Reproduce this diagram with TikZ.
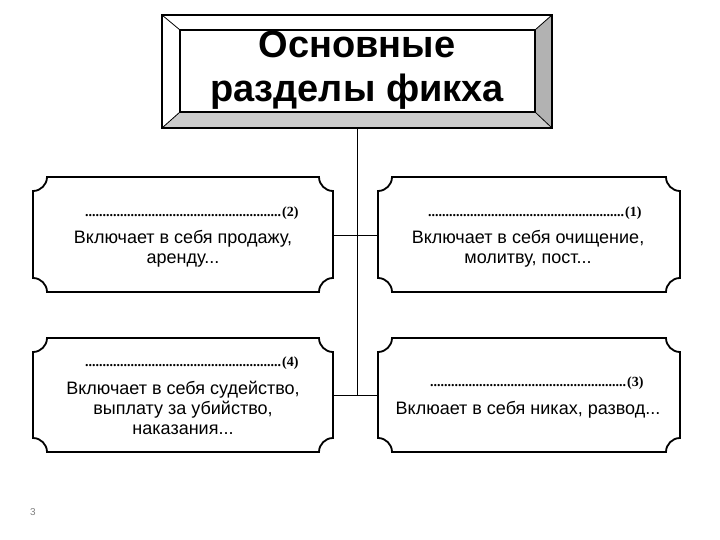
\documentclass[tikz,border=0pt]{standalone}
\usepackage{fontspec}
\setmainfont{Liberation Sans}
\newfontfamily\serifr{Liberation Serif}
\tikzset{
  frame/.style={line width=1.8pt},
  txt/.style={font=\fontsize{18}{20}\selectfont, align=center, inner sep=0pt},
  dots/.style={font=\serifr\bfseries\fontsize{14}{15}\selectfont, inner sep=0pt, anchor=base west},
  con/.style={line width=1pt}
}
\newcommand{\notchbox}[4]{%
  \draw[frame,fill=white] (#1+14,#2) -- (#3-14,#2)
   .. controls (#3-14,#2+7.7) and (#3-7.7,#2+14) .. (#3,#2+14)
   -- (#3,#4-14) .. controls (#3-7.7,#4-14) and (#3-14,#4-7.7) .. (#3-14,#4)
   -- (#1+14,#4) .. controls (#1+14,#4-7.7) and (#1+7.7,#4-14) .. (#1,#4-14)
   -- (#1,#2+14) .. controls (#1+7.7,#2+14) and (#1+14,#2+7.7) .. (#1+14,#2) -- cycle;}
\newcommand{\dotrow}[1]{\hbox to 197pt{\leaders\hbox{.}\hfil}(#1)}
\begin{document}
\begin{tikzpicture}[x=1pt,y=-1pt]
\useasboundingbox (0,0) rectangle (720,540);
% connectors
\coordinate (t) at (357,128);
\coordinate (b) at (357,395);
\draw[con] (t) -- (b);
\draw[con] (333,235) -- (378,235);
\draw[con] (333,395) -- (378,395);
% title frame
\fill[white] (162,15) -- (552,15) -- (535,30) -- (180,30) -- cycle;
\fill[white] (162,15) -- (180,30) -- (180,112) -- (162,128) -- cycle;
\fill[gray!60] (552,15) -- (552,128) -- (535,112) -- (535,30) -- cycle;
\fill[gray!40] (162,128) -- (552,128) -- (535,112) -- (180,112) -- cycle;
\draw[line width=1.5pt] (162,15) rectangle (552,128);
\draw[line width=1.5pt] (180,30) rectangle (535,112);
\draw[line width=0.8pt] (162,15) -- (180,30) (552,15) -- (535,30) (162,128) -- (180,112) (552,128) -- (535,112);
\node[font=\bfseries\fontsize{38}{44}\selectfont, align=center, inner sep=0pt] (title) at (357,70) {Основные\\разделы фикха};
% boxes
\notchbox{33}{177}{333}{292}
\notchbox{378}{177}{680}{292}
\notchbox{33}{338}{333}{452}
\notchbox{378}{338}{680}{452}
% texts
\node[dots] (d2) at (85,217) {\dotrow{2}};
\node[txt] (t2) at (183,249) {Включает в себя продажу,\\аренду...};
\node[dots] (d1) at (428,216) {\dotrow{1}};
\node[txt] (t1) at (528,249) {Включает в себя очищение,\\молитву, пост...};
\node[dots] (d4) at (85,366) {\dotrow{4}};
\node[txt] (t4) at (183,408) {Включает в себя судейство,\\выплату за убийство,\\наказания...};
\node[dots] (d3) at (430,386) {\dotrow{3}};
\node[txt] (t3) at (528,410) {Вклюает в себя никах, развод...};
\node[font=\fontsize{10}{11}\selectfont, text=gray] (pg) at (33,512) {3};
\end{tikzpicture}
\end{document}
